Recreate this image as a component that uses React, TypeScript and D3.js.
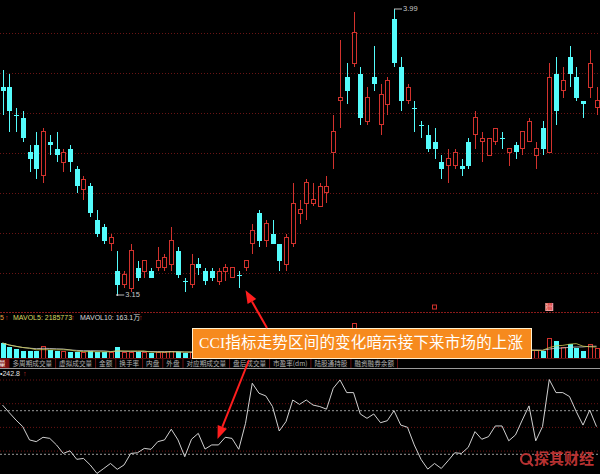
import * as d3 from 'd3';

// daily candles, oldest first
const OPEN = [3.76, 3.76, 3.68, 3.67, 3.57, 3.59, 3.50, 3.60, 3.58, 3.54,
  3.58, 3.52, 3.46, 3.47, 3.37, 3.35, 3.30, 3.22, 3.18, 3.17,
  3.23, 3.22, 3.22, 3.23, 3.23, 3.24, 3.28, 3.19, 3.18, 3.24,
  3.22, 3.22, 3.19, 3.22, 3.20, 3.21, 3.23, 3.30, 3.39, 3.31,
  3.33, 3.30, 3.24, 3.30, 3.39, 3.42, 3.42, 3.41, 3.45, 3.57,
  3.72, 3.79, 3.83, 3.80, 3.66, 3.79, 3.65, 3.71, 3.96, 3.82,
  3.72, 3.70, 3.65, 3.62, 3.60, 3.54, 3.53, 3.53, 3.53, 3.60,
  3.62, 3.60, 3.56, 3.60, 3.61, 3.57, 3.59, 3.58, 3.60, 3.56,
  3.64, 3.57, 3.80, 3.75, 3.85, 3.79, 3.72, 3.76, 3.70];
const HIGH = [3.81, 3.80, 3.70, 3.69, 3.59, 3.63, 3.64, 3.62, 3.63, 3.58,
  3.59, 3.53, 3.50, 3.48, 3.40, 3.36, 3.33, 3.28, 3.22, 3.30,
  3.25, 3.25, 3.23, 3.29, 3.27, 3.35, 3.29, 3.20, 3.27, 3.26,
  3.23, 3.23, 3.23, 3.24, 3.23, 3.22, 3.25, 3.36, 3.40, 3.37,
  3.37, 3.30, 3.33, 3.48, 3.43, 3.49, 3.48, 3.48, 3.50, 3.68,
  3.90, 3.83, 3.98, 3.82, 3.76, 3.88, 3.77, 3.79, 3.99, 3.85,
  3.77, 3.72, 3.66, 3.65, 3.64, 3.56, 3.58, 3.58, 3.55, 3.61,
  3.69, 3.63, 3.61, 3.64, 3.63, 3.58, 3.60, 3.63, 3.67, 3.60,
  3.66, 3.83, 3.85, 3.82, 3.88, 3.82, 3.72, 3.87, 3.76];
const LOW = [3.68, 3.63, 3.63, 3.60, 3.51, 3.49, 3.48, 3.56, 3.54, 3.51,
  3.51, 3.45, 3.43, 3.38, 3.32, 3.30, 3.28, 3.15, 3.17, 3.16,
  3.19, 3.20, 3.20, 3.22, 3.22, 3.22, 3.20, 3.16, 3.17, 3.21,
  3.18, 3.19, 3.18, 3.19, 3.20, 3.17, 3.22, 3.27, 3.29, 3.29,
  3.30, 3.22, 3.22, 3.29, 3.36, 3.37, 3.41, 3.41, 3.42, 3.52,
  3.64, 3.71, 3.82, 3.65, 3.65, 3.75, 3.62, 3.68, 3.82, 3.69,
  3.71, 3.63, 3.61, 3.57, 3.55, 3.49, 3.48, 3.52, 3.50, 3.52,
  3.58, 3.54, 3.56, 3.59, 3.58, 3.53, 3.55, 3.56, 3.60, 3.52,
  3.56, 3.57, 3.65, 3.73, 3.76, 3.72, 3.67, 3.73, 3.68];
const CLOSE = [3.75, 3.69, 3.68, 3.61, 3.55, 3.52, 3.63, 3.59, 3.56, 3.57,
  3.54, 3.47, 3.49, 3.39, 3.33, 3.31, 3.32, 3.18, 3.21, 3.28,
  3.20, 3.25, 3.20, 3.25, 3.26, 3.31, 3.21, 3.19, 3.24, 3.23,
  3.19, 3.20, 3.22, 3.23, 3.23, 3.21, 3.25, 3.34, 3.31, 3.36,
  3.30, 3.25, 3.32, 3.42, 3.40, 3.48, 3.43, 3.47, 3.47, 3.63,
  3.73, 3.75, 3.92, 3.67, 3.73, 3.77, 3.74, 3.78, 3.83, 3.72,
  3.76, 3.70, 3.65, 3.58, 3.58, 3.52, 3.55, 3.57, 3.52, 3.53,
  3.67, 3.61, 3.61, 3.64, 3.61, 3.58, 3.57, 3.63, 3.66, 3.58,
  3.58, 3.79, 3.69, 3.78, 3.80, 3.73, 3.71, 3.83, 3.72];

// volume in 万股
const VOLUME = [300, 220, 180, 140, 140, 140, 240, 160, 140, 140,
  120, 120, 120, 140, 120, 120, 120, 220, 120, 120,
  120, 120, 100, 120, 120, 140, 120, 100, 120, 100,
  100, 90, 100, 90, 100, 110, 100, 180, 220, 180,
  150, 140, 160, 300, 200, 260, 200, 220, 200, 420,
  560, 480, 700, 500, 380, 360, 340, 320, 480, 360,
  240, 220, 180, 200, 180, 160, 180, 160, 140, 180,
  200, 160, 160, 180, 140, 140, 120, 160, 180, 160,
  140, 400, 340, 220, 280, 200, 140, 280, 200];

const CCI = [126, 91, 57, 27, -34, -42, -22, -27, -57, -96,
  -84, -123, -119, -149, -188, -165, -142, -169, -149, -96,
  -93, -73, -77, -42, -34, 15, -34, -111, -31, -4,
  -76, -57, -57, -22, -27, -77, 42, 226, 180, 168,
  119, 7, 50, 149, 129, 149, 126, 119, 107, 203,
  241, 183, 183, 85, 65, 85, 45, 54, 100, 34,
  24, -57, -123, -168, -142, -165, -130, -93, -96, -68,
  4, -31, -19, 30, 30, -38, -11, 57, 122, -38,
  27, 242.8, 183, 183, 165, 96, 34, 103, 27];

const TABS = ['量', '多周期成交量', '虚拟成交量', '金额', '换手率', '内盘', '外盘',
  '对应期成交量', '盘后成交量', '市盈率(dm)', '陆股通持股', '融资融券余额'];

const SIGNALS = [{ i: 64, label: '' }, { i: 81, label: '潜' }];

const NOTE = 'CCI指标走势区间的变化暗示接下来市场的上涨';

const RED = '#d2322d';
const CYAN = '#54fcfc';
const GRID = '#6a1414';
const SANS = '"Liberation Sans", "Noto Sans CJK SC", sans-serif';
const CJK = '"Noto Sans CJK SC", sans-serif';

function Arrow({ x1, y1, x2, y2 }: { x1: number; y1: number; x2: number; y2: number }) {
  const ang = Math.atan2(y2 - y1, x2 - x1);
  const len = 13;
  const half = 5;
  const bx = x2 - len * Math.cos(ang);
  const by = y2 - len * Math.sin(ang);
  const px = -Math.sin(ang) * half;
  const py = Math.cos(ang) * half;
  return (
    <g>
      <line x1={x1} y1={y1} x2={bx} y2={by} stroke="#ff1e1e" strokeWidth={2} />
      <polygon points={`${x2},${y2} ${bx + px},${by + py} ${bx - px},${by - py}`} fill="#ff1e1e" />
    </g>
  );
}

function textW(s: string, size: number) {
  let w = 0;
  for (const ch of s) w += /[\u4e00-\u9fff]/.test(ch) ? size : size * 0.55;
  return w;
}

export default function App() {
  const n = OPEN.length;
  const idx = d3.range(n);
  const x = d3.scaleLinear().domain([0, n - 1]).range([2.5, 596.5]);
  const y = d3.scaleLinear().domain([3.15, 3.99]).range([295, 9]);
  const yVol = d3.scaleLinear().domain([0, 800]).range([358, 318]);
  const yCci = d3.scaleLinear().domain([-100, 100]).range([454.3, 410.7]);

  const isUp = (i: number) => CLOSE[i] > OPEN[i];
  const ma = (k: number) => idx.map((i) => d3.mean(VOLUME.slice(Math.max(0, i - k + 1), i + 1))!);
  const volLine = d3.line<number>().x((_, i) => x(i)).y((v) => yVol(v));
  const cciLine = d3.line<number>().x((_, i) => x(i)).y((v) => yCci(v));

  const hi = d3.maxIndex(HIGH);
  const lo = d3.minIndex(LOW);

  const mainGrid = d3.range(7).map((k) => 33 + k * 40);
  const cciGrid = d3.range(4).map((k) => 380 + k * 23.7);

  // tab strip
  const tabSize = 6.6;
  let tx = -4.6;
  const tabs = TABS.map((t) => {
    const w = textW(t, tabSize) + 7;
    const r = { t, x: tx, w };
    tx += w;
    return r;
  });

  return (
    <svg width={600} height={474} style={{ position: 'absolute', left: 0, top: 0, display: 'block' }}
      fontFamily={SANS}>
      <rect width={600} height={474} fill="#000" />

      {/* main price panel */}
      {mainGrid.map((g) => (
        <line key={g} x1={0} x2={600} y1={g + 0.5} y2={g + 0.5} stroke={GRID} strokeDasharray="1,2" />
      ))}
      <line x1={0} x2={600} y1={312.5} y2={312.5} stroke="#8a1a1a" strokeDasharray="2,1" />

      <g shapeRendering="crispEdges">
        {idx.map((i) => {
          const cx = Math.round(x(i)) + 0.5;
          const up = isUp(i);
          const c = up ? RED : CYAN;
          const top = y(Math.max(OPEN[i], CLOSE[i]));
          const bot = y(Math.min(OPEN[i], CLOSE[i]));
          const h = Math.max(1, bot - top);
          return (
            <g key={i}>
              <line x1={cx} x2={cx} y1={y(HIGH[i])} y2={y(LOW[i])} stroke={c} />
              {up ? (
                <rect x={cx - 2} y={top} width={4} height={h} fill="#000" stroke={c} />
              ) : (
                <rect x={cx - 2.5} y={top} width={5} height={h} fill={c} />
              )}
            </g>
          );
        })}
      </g>

      {/* high / low marks */}
      <g fill="#c8c8c8" fontSize={7.5}>
        <line x1={x(hi)} x2={x(hi) + 8} y1={y(HIGH[hi])} y2={y(HIGH[hi])} stroke="#bbb" />
        <text x={x(hi) + 9} y={y(HIGH[hi])} dominantBaseline="middle">{d3.format('.2f')(HIGH[hi])}</text>
        <circle cx={x(lo)} cy={y(LOW[lo])} r={1} fill="#ddd" />
        <line x1={x(lo)} x2={x(lo) + 7} y1={y(LOW[lo])} y2={y(LOW[lo])} stroke="#bbb" />
        <text x={x(lo) + 8} y={y(LOW[lo])} dominantBaseline="middle">{d3.format('.2f')(LOW[lo])}</text>
      </g>

      {/* event markers */}
      {SIGNALS.map((s) =>
        s.label ? (
          <g key={s.i}>
            <rect x={x(s.i) - 4} y={303} width={8} height={8} fill="#f0a0a0" />
            <text x={x(s.i)} y={307.5} fontSize={7} fill={RED} textAnchor="middle" dominantBaseline="middle"
              fontFamily={CJK}>{s.label}</text>
          </g>
        ) : (
          <rect key={s.i} x={x(s.i) - 2} y={305} width={4} height={4} fill="none" stroke={RED} />
        ),
      )}

      {/* volume panel */}
      <g fontSize={7} dominantBaseline="middle">
        <text x={0} y={318} fill="#e8a040">5</text>
        <text x={5} y={318} fill={RED}>↑</text>
        <text x={13} y={318} fill="#d8d860">MAVOL5: 2185773</text>
        <text x={71} y={318} fill={RED}>↑</text>
        <text x={80} y={318} fill="#d8d8d8">MAVOL10: 163.1万</text>
        <text x={139} y={318} fill={RED}>↑</text>
      </g>
      <g shapeRendering="crispEdges">
        {idx.map((i) => {
          const cx = Math.round(x(i)) + 0.5;
          const top = yVol(VOLUME[i]);
          return isUp(i) ? (
            <rect key={i} x={cx - 2} y={top} width={4} height={358 - top} fill="#000" stroke={RED} />
          ) : (
            <rect key={i} x={cx - 2.5} y={top} width={5} height={358 - top} fill={CYAN} />
          );
        })}
      </g>
      <path d={volLine(ma(10))!} fill="none" stroke="#d0d0d0" strokeWidth={0.8} />
      <path d={volLine(ma(5))!} fill="none" stroke="#c8c850" strokeWidth={0.8} />

      {/* tab strip */}
      <rect x={0} y={358} width={600} height={10} fill="#000" />
      <line x1={0} x2={600} y1={358.5} y2={358.5} stroke="#5a1010" />
      <line x1={0} x2={600} y1={368.5} y2={368.5} stroke="#9a9a9a" />
      {tabs.map((t, k) => (
        <g key={t.t}>
          {k === 0 && <rect x={t.x} y={359} width={t.w} height={9} fill="#7a1010" />}
          <line x1={t.x + t.w} x2={t.x + t.w} y1={359} y2={368} stroke="#6a1010" />
          <text x={t.x + t.w / 2} y={363.8} fontSize={tabSize} fontFamily={CJK} textAnchor="middle"
            dominantBaseline="middle" fill={k === 0 ? '#fff' : '#b0b0b0'}>{t.t}</text>
        </g>
      ))}

      {/* CCI panel */}
      {cciGrid.map((g) => (
        <line key={g} x1={0} x2={600} y1={g} y2={g} stroke={GRID} strokeDasharray="1,2" />
      ))}
      {[100, -100].map((v) => (
        <line key={v} x1={0} x2={600} y1={yCci(v)} y2={yCci(v)} stroke="#9a9a9a" strokeDasharray="2,2" />
      ))}
      <path d={cciLine(CCI)!} fill="none" stroke="#e8e8e8" strokeWidth={0.9} />
      <g fontSize={7} dominantBaseline="middle">
        <text x={0} y={374} fill="#e0e0e0">•{CCI[81]}</text>
        <text x={23} y={374} fill={RED}>↑</text>
      </g>

      {/* watermark */}
      <g fill="#b83232">
        <circle cx={526} cy={459} r={5} fill="none" stroke="#b83232" strokeWidth={2.2} />
        <line x1={528} y1={461} x2={533} y2={466} stroke="#b83232" strokeWidth={2.2} />
        <text x={534} y={460} fontSize={15} fontWeight="bold" fontFamily={CJK} dominantBaseline="middle">探其财经</text>
      </g>

      {/* annotation */}
      <rect x={192.5} y={328.5} width={339} height={30} fill="#f68a1e" stroke="#fff0d0" />
      <text x={199} y={344} fontSize={15.5} fill="#fff" dominantBaseline="middle"
        fontFamily={'"Liberation Serif", "Noto Sans CJK SC", serif'} textLength={324} lengthAdjust="spacing">
        {NOTE}
      </text>
      <Arrow x1={267} y1={328} x2={x(36)} y2={y(LOW[36]) + 19} />
      <Arrow x1={249} y1={360} x2={x(32) - 1} y2={yCci(CCI[32]) - 6} />
    </svg>
  );
}
